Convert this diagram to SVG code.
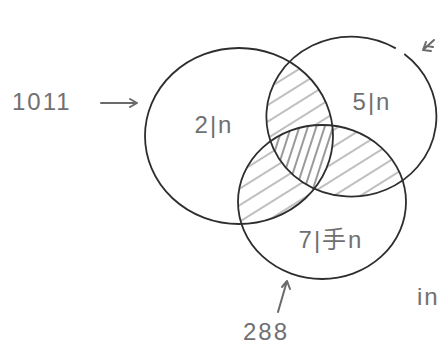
<svg xmlns="http://www.w3.org/2000/svg" width="439" height="346" viewBox="0 0 439 346">
<style>
.c{fill:none;stroke:#2e2e2e;stroke-width:1.8}
.t{font-family:"Liberation Sans","Noto Sans CJK JP",sans-serif;fill:#707070;font-size:24px;letter-spacing:2px}
.a{fill:none;stroke:#6a6a6a;stroke-width:2;stroke-linecap:round;stroke-linejoin:round}
</style>
<defs>
<pattern id="h1" patternUnits="userSpaceOnUse" width="14" height="14" patternTransform="rotate(-32)">
<line x1="0" y1="7" x2="14" y2="7" stroke="#8a8a8a" stroke-width="1.1"/>
</pattern>
<pattern id="h2" patternUnits="userSpaceOnUse" width="8" height="8" patternTransform="rotate(-72)">
<line x1="0" y1="4" x2="8" y2="4" stroke="#555" stroke-width="1.2"/>
</pattern>
<clipPath id="cA"><ellipse cx="239" cy="136" rx="94" ry="88"/></clipPath>
<clipPath id="cB"><ellipse cx="352" cy="117" rx="85" ry="80"/></clipPath>
<clipPath id="cC"><ellipse cx="322" cy="202" rx="84" ry="77"/></clipPath>
</defs>
<g id="hatching">
<g clip-path="url(#cA)"><rect x="0" y="0" width="439" height="346" fill="url(#h1)" clip-path="url(#cB)"/></g>
<g clip-path="url(#cA)"><rect x="0" y="0" width="439" height="346" fill="url(#h1)" clip-path="url(#cC)"/></g>
<g clip-path="url(#cB)"><rect x="0" y="0" width="439" height="346" fill="url(#h1)" clip-path="url(#cC)"/></g>
<g clip-path="url(#cA)"><g clip-path="url(#cB)"><rect x="0" y="0" width="439" height="346" fill="#fff" clip-path="url(#cC)"/><rect x="0" y="0" width="439" height="346" fill="url(#h2)" clip-path="url(#cC)"/></g></g>
</g>
<g id="setA">
<ellipse class="c" cx="239" cy="136" rx="94" ry="88"/>
<text class="t" x="214" y="133" text-anchor="middle">2|n</text>
</g>
<g id="setB">
<path class="c" d="M404.3,54 A85,80 0 1,1 395.8,48.4"/>
<text class="t" x="372" y="110" text-anchor="middle">5|n</text>
</g>
<g id="setC">
<ellipse class="c" cx="322" cy="202" rx="84" ry="77"/>
<text class="t" x="331" y="248" text-anchor="middle">7|手n</text>
</g>
<g id="connectors">
<path class="a" d="M101,103 L137,103 M130,99 L137,103 L130,107"/>
<path class="a" d="M278,312 L287,281 M282,287 L287,281 L290,289"/>
<path class="a" d="M434,40 L423,50 M423,50 L431,51 M423,50 L426,42 M427,46 L433,47"/>
</g>
<g id="labels">
<text class="t" x="12" y="110">1011</text>
<text class="t" x="243" y="340">288</text>
<text class="t" x="417" y="305">in</text>
</g>
</svg>
